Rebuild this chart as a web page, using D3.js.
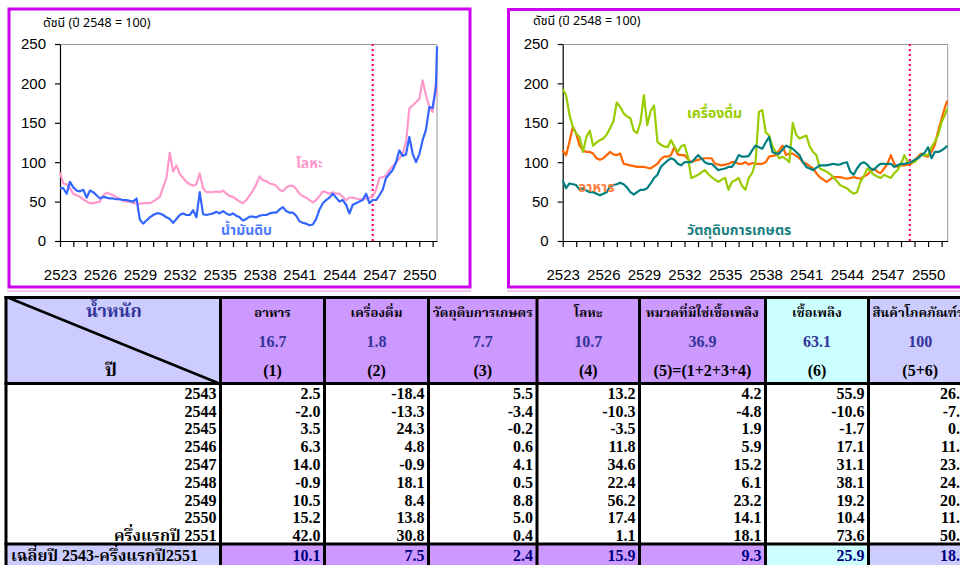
<!DOCTYPE html>
<html>
<head>
<meta charset="utf-8">
<script src="https://cdn.jsdelivr.net/npm/d3@7"></script>
<style>
  body { margin: 0; background: #fff; overflow: hidden; }
  svg { display: block; }
</style>
</head>
<body>
<div id="viz"></div>
<script>
// ---- chart data: quarterly index values (2548 = 100), 2523 Q1 .. 2551 ----
var yTicks = [0, 50, 100, 150, 200, 250];
var yearTicks = d3.range(2523, 2552);

var metalIdx = [
  87, 73, 72, 67,   60, 58, 56, 53,   50, 48, 48, 49,   50, 58, 61, 60,
  58, 56, 53, 51,   50, 50, 48, 48,   47, 48, 48, 48,   50, 53, 56, 68,
  80, 112, 88, 96,  85, 80, 75, 72,   70, 72, 86, 67,   62, 62, 62, 63,
  62, 64, 60, 57,   56, 53, 50, 48,   52, 58, 64, 72,   82, 77, 76, 73,
  72, 70, 65, 63,   68, 70, 70, 66,   60, 57, 55, 52,   49, 52, 57, 63,
  62, 60, 62, 60,   60, 56, 52, 55,   55, 54, 53, 53,   54, 55, 56, 65,
  80, 81, 83, 90,   95, 99, 105, 111, 125, 168, 172, 176, 180, 204, 185, 170,
  164, 200, 185
];
var crudeIdx = [
  67, 67, 60, 75,   68, 64, 63, 65,   55, 64, 62, 58,   54, 56, 55, 54,
  54, 53, 53, 52,   52, 51, 50, 54,   27, 22, 26, 30,   33, 35, 35, 33,
  30, 28, 23, 28,   33, 35, 33, 33,   39, 30, 62, 34,   33, 34, 35, 37,
  35, 38, 35, 33,   35, 32, 30, 26,   28, 31, 31, 30,   32, 33, 33, 35,
  36, 36, 40, 43,   38, 36, 36, 32,   25, 23, 22, 20,   21, 28, 40, 48,
  52, 55, 60, 55,   50, 52, 46, 35,   46, 48, 50, 52,   60, 48, 52, 52,
  58, 65, 80, 85,   90, 100, 115, 108, 110, 132, 111, 100, 110, 128, 141, 170,
  169, 196, 247
];
var foodIdx = [
  115, 109, 126, 145, 136, 121, 115, 113, 113, 111, 105, 103, 105, 109, 113, 110,
  109, 111, 98, 97,   96, 95, 94, 94,   94, 93, 92, 95,   98, 104, 107, 107,
  109, 119, 110, 109, 109, 104, 100, 102, 103, 104, 105, 105, 105, 98, 97, 96,
  97, 98, 100, 100,  98, 98, 100, 97,  99, 98, 98, 98,   100, 107, 108, 109,
  115, 121, 109, 111, 111, 108, 105, 100, 98, 95, 92, 86,  81, 78, 75, 78,
  81, 81, 81, 80,   79, 80, 81, 80,   79, 82, 84, 88,   92, 88, 86, 92,
  98, 109, 98, 94,  96, 96, 97, 98,   102, 107, 111, 108, 107, 113, 122, 140,
  155, 170, 178
];
var beverageIdx = [
  193, 185, 160, 145, 136, 132, 113, 132, 140, 121, 125, 128, 130, 135, 143, 152,
  176, 170, 162, 158, 156, 140, 137, 151, 185, 147, 165, 172, 126, 122, 120, 119,
  128, 120, 113, 120, 122, 107, 80, 82,  84, 87, 90, 85,   81, 78, 75, 78,
  80, 65, 75, 77,   80, 70, 65, 80,   86, 100, 164, 166, 138, 134, 120, 113,
  105, 107, 104, 100, 150, 135, 130, 132, 134, 120, 113, 109, 92, 90, 88, 85,
  81, 76, 71, 69,   67, 63, 60, 62,   75, 82, 92, 88,   84, 82, 80, 84,
  82, 80, 86, 90,   98, 109, 100, 100, 100, 105, 109, 109, 109, 119, 126, 135,
  151, 160, 168
];
var agriIdx = [
  77, 67, 73, 72,   71, 65, 67, 64,   62, 62, 60, 58,   60, 62, 69, 71,
  72, 74, 72, 68,   62, 59, 62, 65,   65, 67, 73, 80,   84, 94, 98, 102,
  105, 103, 98, 96, 100, 100, 100, 104, 109, 105, 100, 98, 98, 94, 90, 91,
  92, 94, 94, 100,  109, 107, 107, 108, 115, 121, 119, 117, 125, 132, 113, 111,
  111, 116, 121, 119, 117, 113, 109, 100, 94, 92, 90, 93,  96, 96, 96, 97,
  98, 97, 97, 99,   100, 88, 84, 92,  98, 100, 97, 92,   90, 95, 98, 98,
  98, 98, 94, 96,   98, 98, 99, 100,  103, 105, 109, 112, 119, 105, 113, 113,
  115, 118, 121
];

// ---- table data: growth rates (%) ----
var rowLabels = ["2543", "2544", "2545", "2546", "2547", "2548", "2549", "2550", "ครึ่งแรกปี 2551"];
var foodGrowth = [2.5, -2.0, 3.5, 6.3, 14.0, -0.9, 10.5, 15.2, 42.0];
var beverageGrowth = [-18.4, -13.3, 24.3, 4.8, -0.9, 18.1, 8.4, 13.8, 30.8];
var agriGrowth = [5.5, -3.4, -0.2, 0.6, 4.1, 0.5, 8.8, 5.0, 0.4];
var metalGrowth = [13.2, -10.3, -3.5, 11.8, 34.6, 22.4, 56.2, 17.4, 1.1];
var nonFuelGrowth = [4.2, -4.8, 1.9, 5.9, 15.2, 6.1, 23.2, 14.1, 18.1];
var fuelGrowth = [55.9, -10.6, -1.7, 17.1, 31.1, 38.1, 19.2, 10.4, 73.6];
var totalGrowth = [26.9, -7.8, 0.2, 11.4, 23.1, 24.3, 20.3, 11.7, 50.2];
var avgLabel = "เฉลี่ยปี 2543-ครึ่งแรกปี2551";
var avgGrowth = [10.1, 7.5, 2.4, 15.9, 9.3, 25.9, 18.0];
var colNames = ["อาหาร", "เครื่องดื่ม", "วัตถุดิบการเกษตร", "โลหะ", "หมวดที่มิใช่เชื้อเพลิง", "เชื้อเพลิง", "สินค้าโภคภัณฑ์รวม"];
var colWeights = ["16.7", "1.8", "7.7", "10.7", "36.9", "63.1", "100"];
var colCodes = ["(1)", "(2)", "(3)", "(4)", "(5)=(1+2+3+4)", "(6)", "(5+6)"];

var thaiSans = "Tahoma, 'Noto Sans Thai', 'Noto Sans', 'DejaVu Sans', sans-serif";
var serif = "'Liberation Serif', 'Times New Roman', 'Noto Serif Thai', serif";

var svg = d3.select('#viz').append('svg')
    .attr('width', 960).attr('height', 565)
    .style('background', '#fff');

// ---- chart panels ----
svg.append('rect').attr('x', 9).attr('y', 9).attr('width', 461).attr('height', 278)
   .attr('fill', 'none').attr('stroke', '#cc00ee').attr('stroke-width', 3);
svg.append('rect').attr('x', 508.5).attr('y', 9.5).attr('width', 500).attr('height', 277.5)
   .attr('fill', 'none').attr('stroke', '#cc00ee').attr('stroke-width', 3);
svg.append('line').attr('x1', 7).attr('x2', 471).attr('y1', 291).attr('y2', 291)
   .attr('stroke', '#f3c6f3').attr('stroke-width', 2);
svg.append('line').attr('x1', 507).attr('x2', 960).attr('y1', 291).attr('y2', 291)
   .attr('stroke', '#f3c6f3').attr('stroke-width', 2);

function lineChart(cfg) {
  var g = svg.append('g');
  var n = cfg.series[0].values.length;
  var times = d3.range(n - 1).map(function(i) { return 2523 + i / 4; }).concat([cfg.last]);

  var x = d3.scaleLinear().domain([2523, cfg.end]).range([cfg.left, cfg.right]);
  var y = d3.scaleLinear().domain([0, 250]).range([241, 44]);

  g.append('text').attr('x', cfg.titleX).attr('y', cfg.titleY)
    .attr('dominant-baseline', 'central')
    .style('font-family', thaiSans).style('font-size', '12.5px').style('fill', '#000')
    .text('ดัชนี (ปี 2548 = 100)');

  g.append('path')
    .attr('d', 'M' + cfg.left + ',44.5H' + cfg.right + 'V241')
    .attr('fill', 'none').attr('stroke', '#999').attr('stroke-width', 1);

  var yAxis = g.append('g').attr('transform', 'translate(' + cfg.left + ',0)')
    .call(d3.axisLeft(y).tickValues(yTicks).tickSize(5).tickSizeOuter(0).tickPadding(9));
  var xAxis = g.append('g').attr('transform', 'translate(0,241)')
    .call(d3.axisBottom(x).tickValues(yearTicks).tickSize(6).tickSizeOuter(0).tickPadding(22)
      .tickFormat(function(d) { return (d - 2523) % 3 === 0 ? d : ''; }));
  [yAxis, xAxis].forEach(function(a) {
    a.selectAll('text').style('font-family', "'Liberation Sans', Arial, sans-serif")
      .style('font-size', '15px').style('fill', '#000');
    a.selectAll('path, line').attr('stroke', '#000').attr('stroke-width', 1.2);
  });

  g.append('line')
    .attr('x1', x(cfg.refYear)).attr('x2', x(cfg.refYear))
    .attr('y1', 44).attr('y2', 243)
    .attr('stroke', '#ff0066').attr('stroke-width', 2.2).attr('stroke-dasharray', '2,3');

  var line = d3.line()
    .x(function(d, i) { return x(times[i]); })
    .y(function(d) { return y(d); });

  cfg.series.forEach(function(s) {
    g.append('path').datum(s.values)
      .attr('d', line)
      .attr('fill', 'none')
      .attr('stroke', s.color)
      .attr('stroke-width', 2.2)
      .attr('stroke-linejoin', 'round');
  });
  cfg.series.forEach(function(s) {
    g.append('text').attr('x', s.lx).attr('y', s.ly)
      .attr('dominant-baseline', 'central')
      .style('font-family', thaiSans).style('font-size', '14px').style('font-weight', 'bold')
      .style('fill', s.labelColor || s.color)
      .text(s.name);
  });
}

lineChart({
  left: 60, right: 437, end: 2551.33, last: 2551.33, refYear: 2546.5,
  titleX: 43, titleY: 23,
  series: [
    { name: 'โลหะ', values: metalIdx, color: '#ff99cc', lx: 296, ly: 163 },
    { name: 'น้ำมันดิบ', values: crudeIdx, color: '#3366ff', labelColor: '#4d79ff', lx: 221, ly: 230 }
  ]
});

lineChart({
  left: 562.7, right: 947.7, end: 2551.45, last: 2551.42, refYear: 2548.65,
  titleX: 533, titleY: 21,
  series: [
    { name: 'อาหาร', values: foodIdx, color: '#ff6600', labelColor: '#ff8040', lx: 578, ly: 187 },
    { name: 'เครื่องดื่ม', values: beverageIdx, color: '#99cc00', lx: 687, ly: 113 },
    { name: 'วัตถุดิบการเกษตร', values: agriIdx, color: '#008080', labelColor: '#1a8080', lx: 687, ly: 230 }
  ]
});

// ---- table ----
var colX = [6, 220.5, 324.5, 428.5, 537, 639.5, 765.5, 868.5, 972];
var colFill = ['#ccccff', '#cc99ff', '#cc99ff', '#cc99ff', '#cc99ff', '#cc99ff', '#ccffff', '#ccccff'];
var headTop = 297.5, headBottom = 383.5, footTop = 544, footBottom = 575;
var bodyCols = [foodGrowth, beverageGrowth, agriGrowth, metalGrowth, nonFuelGrowth, fuelGrowth, totalGrowth];

var t = svg.append('g');

colFill.forEach(function(c, i) {
  t.append('rect').attr('x', colX[i]).attr('y', headTop)
    .attr('width', colX[i + 1] - colX[i]).attr('height', headBottom - headTop).attr('fill', c);
  t.append('rect').attr('x', colX[i]).attr('y', footTop)
    .attr('width', colX[i + 1] - colX[i]).attr('height', footBottom - footTop).attr('fill', c);
});

// corner cell
t.append('line').attr('x1', 9).attr('y1', 298).attr('x2', 218).attr('y2', 383)
  .attr('stroke', '#000').attr('stroke-width', 2.5);
t.append('text').attr('x', 114).attr('y', 311).attr('text-anchor', 'middle')
  .attr('dominant-baseline', 'central')
  .style('font-family', serif).style('font-size', '18px').style('font-weight', 'bold')
  .style('fill', '#333399').text('น้ำหนัก');
t.append('text').attr('x', 111).attr('y', 370).attr('text-anchor', 'middle')
  .attr('dominant-baseline', 'central')
  .style('font-family', serif).style('font-size', '18px').style('font-weight', 'bold')
  .style('fill', '#000').text('ปี');

// header cells
colNames.forEach(function(name, i) {
  var cx = (colX[i + 1] + colX[i + 2]) / 2;
  var last = i === colNames.length - 1;
  t.append('text').attr('x', last ? colX[i + 1] + 4 : cx).attr('y', 312)
    .attr('text-anchor', last ? 'start' : 'middle').attr('dominant-baseline', 'central')
    .style('font-family', serif).style('font-size', '13px').style('font-weight', 'bold')
    .style('fill', '#000').text(name);
  t.append('text').attr('x', cx).attr('y', 341.5)
    .attr('text-anchor', 'middle').attr('dominant-baseline', 'central')
    .style('font-family', serif).style('font-size', '16px').style('font-weight', 'bold')
    .style('fill', '#333399').text(colWeights[i]);
  t.append('text').attr('x', cx).attr('y', 370)
    .attr('text-anchor', 'middle').attr('dominant-baseline', 'central')
    .style('font-family', serif).style('font-size', '16px').style('font-weight', 'bold')
    .style('fill', '#000').text(colCodes[i]);
});

// body rows
var rowY = function(i) { return 393.3 + 17.8 * i; };
rowLabels.forEach(function(lab, r) {
  t.append('text').attr('x', colX[1] - 4).attr('y', rowY(r))
    .attr('text-anchor', 'end').attr('dominant-baseline', 'central')
    .style('font-family', serif).style('font-size', '16px').style('font-weight', 'bold')
    .style('fill', '#000').text(lab);
  bodyCols.forEach(function(col, c) {
    t.append('text').attr('x', colX[c + 2] - 4).attr('y', rowY(r))
      .attr('text-anchor', 'end').attr('dominant-baseline', 'central')
      .style('font-family', serif).style('font-size', '16px').style('font-weight', 'bold')
      .style('fill', '#000').text(col[r].toFixed(1));
  });
});

// average row
t.append('text').attr('x', 11).attr('y', 555)
  .attr('dominant-baseline', 'central')
  .style('font-family', serif).style('font-size', '16px').style('font-weight', 'bold')
  .style('fill', '#000').text(avgLabel);
avgGrowth.forEach(function(v, c) {
  t.append('text').attr('x', colX[c + 2] - 4).attr('y', 555)
    .attr('text-anchor', 'end').attr('dominant-baseline', 'central')
    .style('font-family', serif).style('font-size', '16px').style('font-weight', 'bold')
    .style('fill', '#000080').text(v.toFixed(1));
});

// grid lines
colX.forEach(function(cx) {
  t.append('line').attr('x1', cx).attr('x2', cx).attr('y1', headTop - 1.5).attr('y2', 565)
    .attr('stroke', '#000').attr('stroke-width', 3);
});
[headTop, headBottom, footTop].forEach(function(yy) {
  t.append('line').attr('x1', colX[0] - 1.5).attr('x2', 975).attr('y1', yy).attr('y2', yy)
    .attr('stroke', '#000').attr('stroke-width', 3);
});
</script>
</body>
</html>
